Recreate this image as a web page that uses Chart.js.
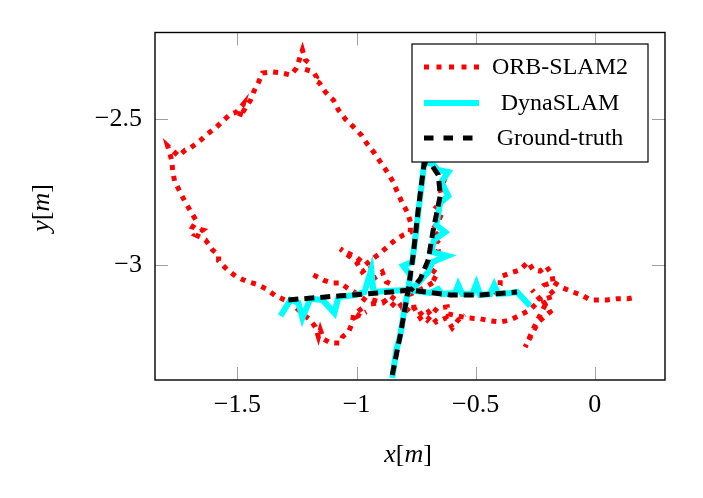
<!DOCTYPE html>
<html>
<head>
<meta charset="utf-8">
<script src="https://cdn.jsdelivr.net/npm/chart.js@4.4.0/dist/chart.umd.min.js"></script>
<style>
  body { margin: 0; background: #fff; }
  #wrap { width: 703px; height: 498px; }
</style>
</head>
<body>
<div id="wrap"><canvas id="traj"></canvas></div>
<script>
// tick labels
const xTicks = [-1.5, -1, -0.5, 0];
const yTicks = [-3, -2.5];
const seriesNames = ['ORB-SLAM2', 'DynaSLAM', 'Ground-truth'];

// ORB-SLAM2 estimate as [x, y] in metres
const orbLoop = [
  [-1.302,-3.120],[-1.340,-3.106],[-1.378,-3.083],[-1.420,-3.066],[-1.466,-3.055],[-1.508,-3.038],
  [-1.542,-3.017],[-1.579,-2.986],[-1.579,-2.966],[-1.604,-2.949],[-1.634,-2.914],[-1.676,-2.897],
  [-1.646,-2.880],[-1.688,-2.870],[-1.672,-2.849],[-1.697,-2.815],[-1.722,-2.780],[-1.743,-2.746],
  [-1.764,-2.712],[-1.772,-2.674],[-1.776,-2.640],[-1.793,-2.591],[-1.747,-2.626],[-1.718,-2.605],
  [-1.697,-2.598],[-1.663,-2.578],[-1.625,-2.550],[-1.592,-2.530],[-1.562,-2.506],[-1.529,-2.482],
  [-1.504,-2.475],[-1.475,-2.447],[-1.491,-2.492],[-1.445,-2.434],[-1.432,-2.406],[-1.411,-2.372],
  [-1.395,-2.341],[-1.353,-2.337],[-1.315,-2.341],[-1.277,-2.348],[-1.252,-2.324],[-1.227,-2.262],
  [-1.215,-2.296],[-1.198,-2.307],[-1.206,-2.331],[-1.181,-2.337],[-1.168,-2.355],[-1.177,-2.365],
  [-1.156,-2.375],[-1.131,-2.406],[-1.097,-2.434],[-1.076,-2.468],[-1.047,-2.499],[-1.013,-2.526],
  [-0.980,-2.554],[-0.955,-2.585],[-0.925,-2.616],[-0.900,-2.646],[-0.871,-2.681],[-0.846,-2.715],
  [-0.838,-2.732],[-0.808,-2.787],[-0.787,-2.818],[-0.774,-2.852],[-0.774,-2.887],[-0.803,-2.897],
  [-0.837,-2.914],[-0.871,-2.938],[-0.900,-2.959],[-0.933,-2.979],[-0.963,-3.000],[-0.997,-2.976],
  [-1.068,-2.945],[-1.001,-2.990],[-0.976,-3.024],[-0.942,-3.003],[-0.925,-3.045],[-0.892,-3.024],
  [-0.875,-3.058],[-0.837,-3.072]
];
const orbLowerRight = [
  [-1.181,-3.034],[-1.139,-3.052],[-1.101,-3.062],[-1.068,-3.062],[-1.039,-3.079],[-1.009,-3.093],
  [-0.976,-3.113],[-0.942,-3.134],[-0.900,-3.130],[-0.867,-3.120],[-0.837,-3.144],[-0.804,-3.148],
  [-0.745,-3.144],[-0.732,-3.165],[-0.703,-3.189],[-0.661,-3.148],[-0.619,-3.144],[-0.615,-3.168],
  [-0.577,-3.175],[-0.531,-3.182],[-0.481,-3.185],[-0.439,-3.192],[-0.397,-3.196],[-0.355,-3.189],
  [-0.313,-3.172],[-0.271,-3.154],[-0.229,-3.120],[-0.263,-3.086],[-0.208,-3.137],[-0.250,-3.206],
  [-0.292,-3.282],[-0.237,-3.196],[-0.187,-3.161],[-0.220,-3.120],[-0.166,-3.106],[-0.208,-3.069],
  [-0.175,-3.058],[-0.133,-3.079],[-0.091,-3.093],[-0.049,-3.106],[-0.019,-3.120],[0.010,-3.120],
  [0.052,-3.120],[0.094,-3.116],[0.140,-3.116],[0.157,-3.113]
];
const orbUpperRight = [
  [-0.418,-3.103],[-0.397,-3.069],[-0.397,-3.041],[-0.355,-3.028],[-0.313,-3.017],[-0.280,-2.990],
  [-0.259,-3.017],[-0.229,-3.021],[-0.204,-3.004],[-0.179,-3.034],[-0.175,-3.058]
];
const orbBesideVertical = [
  [-0.628,-2.701],[-0.649,-2.743],[-0.636,-2.777],[-0.665,-2.801],[-0.640,-2.818],[-0.657,-2.852],
  [-0.682,-2.880],[-0.644,-2.907],[-0.665,-2.924],[-0.657,-2.949],[-0.678,-2.976],[-0.665,-3.010],
  [-0.691,-3.038],[-0.661,-3.052],[-0.711,-3.076],[-0.753,-3.093],[-0.795,-3.106]
];
const orbLowerLoop = [
  [-1.252,-3.148],[-1.227,-3.168],[-1.194,-3.189],[-1.173,-3.213],[-1.160,-3.247],[-1.152,-3.223],
  [-1.139,-3.254],[-1.110,-3.268],[-1.068,-3.268],[-1.059,-3.247],[-1.034,-3.230],[-1.017,-3.199],
  [-1.013,-3.172],[-0.976,-3.148],[-0.993,-3.175],[-0.959,-3.161]
];
const orbCrossing = [
  [-0.934,-3.120],[-0.888,-3.130],[-0.858,-3.106],[-0.825,-3.127],[-0.795,-3.161],[-0.766,-3.137],
  [-0.732,-3.182],[-0.699,-3.161],[-0.665,-3.196],[-0.623,-3.182],[-0.598,-3.216],[-0.573,-3.189],
  [-0.544,-3.172]
];

// DynaSLAM estimate
const dynaHorizontal = [
  [-1.319,-3.175],[-1.277,-3.120],[-1.244,-3.130],[-1.227,-3.182],[-1.194,-3.116],[-1.143,-3.120],
  [-1.093,-3.165],[-1.076,-3.110],[-1.005,-3.103],[-0.967,-3.093],[-0.938,-3.017],[-0.929,-3.093],
  [-0.858,-3.089],[-0.783,-3.086],[-0.691,-3.096],[-0.657,-3.083],[-0.640,-3.100],[-0.586,-3.096],
  [-0.573,-3.069],[-0.556,-3.100],[-0.514,-3.100],[-0.497,-3.065],[-0.481,-3.103],[-0.439,-3.100],
  [-0.422,-3.069],[-0.405,-3.100],[-0.355,-3.096],[-0.326,-3.093],[-0.271,-3.141]
];
const dynaVertical = [
  [-0.850,-3.388],[-0.833,-3.292],[-0.816,-3.240],[-0.799,-3.154],[-0.783,-3.086],[-0.774,-3.034],
  [-0.804,-3.003],[-0.766,-2.990],[-0.749,-2.880],[-0.737,-2.794],[-0.724,-2.708],[-0.716,-2.646],
  [-0.682,-2.653],[-0.657,-2.674],[-0.615,-2.681],[-0.644,-2.715],[-0.615,-2.763],[-0.649,-2.787],
  [-0.665,-2.863],[-0.628,-2.887],[-0.674,-2.914],[-0.686,-2.955],[-0.619,-2.969],[-0.682,-2.990],
  [-0.699,-3.024],[-0.749,-3.069],[-0.783,-3.086]
];

// ground truth
const gtHorizontal = [
  [-1.286,-3.120],[-1.068,-3.106],[-0.858,-3.093],[-0.774,-3.086],[-0.607,-3.103],[-0.481,-3.103],
  [-0.326,-3.093]
];
const gtVertical = [
  [-0.850,-3.378],[-0.816,-3.240],[-0.783,-3.086],[-0.762,-2.966],[-0.741,-2.811],[-0.716,-2.650],
  [-0.682,-2.660],[-0.657,-2.691],[-0.648,-2.760],[-0.678,-2.880],[-0.699,-2.983],[-0.732,-3.048],
  [-0.774,-3.089]
];

const styles = {
  orb:  { borderColor: '#ff0000', borderWidth: 5, borderDash: [5, 6], order: 3 },
  dyna: { borderColor: '#00ffff', borderWidth: 6, borderDash: [], order: 2 },
  gt:   { borderColor: '#000000', borderWidth: 5, borderDash: [10, 6], order: 1 }
};

function seg(points, style) {
  return Object.assign({
    data: points.map(p => ({ x: p[0], y: p[1] })),
    pointRadius: 0,
    tension: 0,
    fill: false,
    borderJoinStyle: 'miter',
    borderCapStyle: 'butt'
  }, style);
}

const datasets = [
  seg(orbLoop, styles.orb), seg(orbLowerRight, styles.orb), seg(orbUpperRight, styles.orb),
  seg(orbBesideVertical, styles.orb), seg(orbLowerLoop, styles.orb), seg(orbCrossing, styles.orb),
  seg(dynaHorizontal, styles.dyna), seg(dynaVertical, styles.dyna),
  seg(gtHorizontal, styles.gt), seg(gtVertical, styles.gt)
];

const serif = '"Liberation Serif", "Times New Roman", serif';

// pgfplots style box, inward ticks, legend and axis titles
const framePlugin = {
  id: 'frame',
  afterDraw(chart) {
    const ctx = chart.ctx;
    const a = chart.chartArea;
    const sx = chart.scales.x, sy = chart.scales.y;
    ctx.save();
    ctx.strokeStyle = '#a0a0a0';
    ctx.lineWidth = 1;
    ctx.setLineDash([]);
    ctx.beginPath();
    xTicks.forEach(v => {
      const px = Math.round(sx.getPixelForValue(v)) + 0.5;
      ctx.moveTo(px, a.bottom); ctx.lineTo(px, a.bottom - 13);
      ctx.moveTo(px, a.top); ctx.lineTo(px, a.top + 13);
    });
    yTicks.forEach(v => {
      const py = Math.round(sy.getPixelForValue(v)) + 0.5;
      ctx.moveTo(a.left, py); ctx.lineTo(a.left + 13, py);
      ctx.moveTo(a.right, py); ctx.lineTo(a.right - 13, py);
    });
    ctx.stroke();

    ctx.strokeStyle = '#000';
    ctx.lineWidth = 1.4;
    ctx.strokeRect(a.left, a.top, a.right - a.left, a.bottom - a.top);

    // legend
    const lx = 412, ly = 44, lw = 236, lh = 118;
    ctx.fillStyle = '#fff';
    ctx.fillRect(lx, ly, lw, lh);
    ctx.lineWidth = 1.2;
    ctx.strokeRect(lx, ly, lw, lh);
    const rows = [
      { name: seriesNames[0], st: styles.orb, dash: [5, 7.5], y: 67 },
      { name: seriesNames[1], st: styles.dyna, dash: [], y: 103 },
      { name: seriesNames[2], st: styles.gt, dash: [9.5, 10], y: 138 }
    ];
    ctx.font = '24px ' + serif;
    ctx.textAlign = 'center';
    ctx.textBaseline = 'middle';
    rows.forEach(r => {
      ctx.beginPath();
      ctx.strokeStyle = r.st.borderColor;
      ctx.lineWidth = r.st.borderWidth;
      ctx.lineCap = 'butt';
      ctx.setLineDash(r.dash);
      ctx.moveTo(424, r.y); ctx.lineTo(479, r.y);
      ctx.stroke();
      ctx.setLineDash([]);
      ctx.fillStyle = '#000';
      ctx.fillText(r.name, 560, r.y + 1);
    });

    // axis titles: x[m] and y[m]
    function mathLabel(parts, cx, cy) {
      let total = 0;
      parts.forEach(p => { ctx.font = (p[1] ? 'italic ' : '') + '26px ' + serif; total += ctx.measureText(p[0]).width; });
      let x = cx - total / 2;
      ctx.textAlign = 'left';
      parts.forEach(p => {
        ctx.font = (p[1] ? 'italic ' : '') + '26px ' + serif;
        ctx.fillText(p[0], x, cy);
        x += ctx.measureText(p[0]).width;
      });
    }
    ctx.fillStyle = '#000';
    mathLabel([['x', true], ['[', false], ['m', true], [']', false]], 408, 455);
    ctx.translate(42, 208);
    ctx.rotate(-Math.PI / 2);
    mathLabel([['y', true], ['[', false], ['m', true], [']', false]], 0, 0);
    ctx.restore();
  }
};

const minus = v => String(v).replace('-', '\u2212');

new Chart(document.getElementById('traj'), {
  type: 'line',
  data: { datasets: datasets },
  options: {
    responsive: true,
    maintainAspectRatio: false,
    devicePixelRatio: 1,
    animation: false,
    layout: { padding: { top: 32.5, right: 38, left: 0, bottom: 0 } },
    plugins: { legend: { display: false }, tooltip: { enabled: false } },
    scales: {
      x: {
        type: 'linear',
        min: -1.846,
        max: 0.295,
        afterBuildTicks: s => { s.ticks = xTicks.map(v => ({ value: v })); },
        afterFit: s => { s.height = 118; },
        grid: { display: false, drawTicks: false },
        border: { display: false },
        ticks: { callback: minus, color: '#000', padding: 10, maxRotation: 0, font: { family: serif, size: 26 } }
      },
      y: {
        type: 'linear',
        min: -3.395,
        max: -2.202,
        afterBuildTicks: s => { s.ticks = yTicks.map(v => ({ value: v })); },
        afterFit: s => { s.width = 155; },
        grid: { display: false, drawTicks: false },
        border: { display: false },
        ticks: { callback: minus, color: '#000', padding: 13, font: { family: serif, size: 26 } }
      }
    }
  },
  plugins: [framePlugin]
});
</script>
</body>
</html>
